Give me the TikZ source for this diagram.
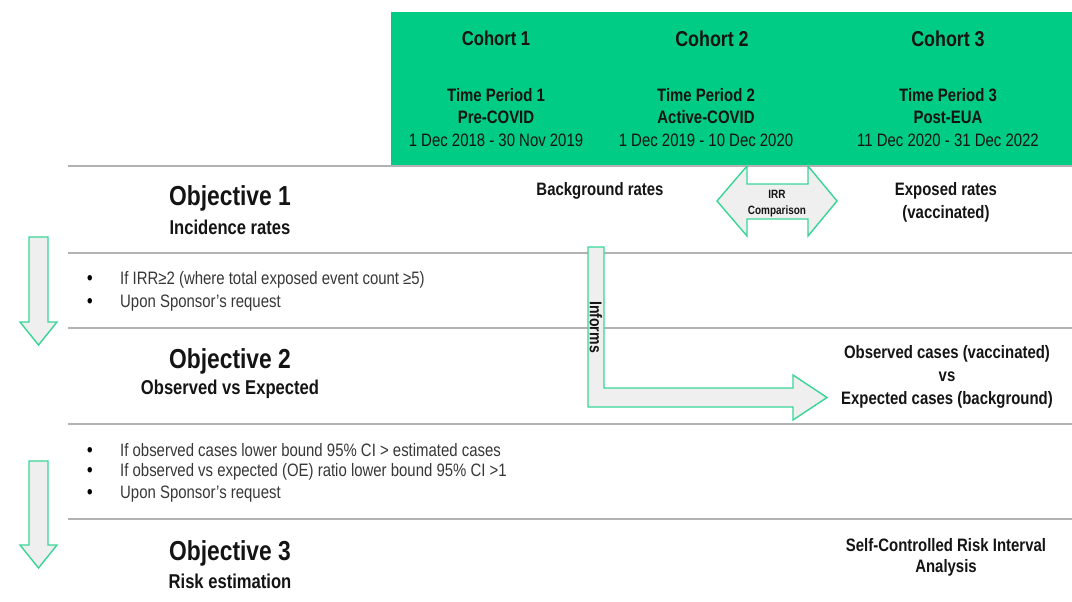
\documentclass[tikz,border=0pt]{standalone}
\usepackage{fontspec}
\setmainfont{Liberation Sans}[FakeStretch=0.83]
\definecolor{cgreen}{RGB}{0,204,133}
\definecolor{mint}{RGB}{56,214,150}
\definecolor{lgray}{RGB}{239,239,239}
\definecolor{rulec}{RGB}{178,178,178}
\definecolor{txt}{RGB}{20,20,20}
\definecolor{btxt}{RGB}{55,55,55}
\tikzset{
  bt/.style={inner sep=0pt, text=txt, font=\bfseries\fontsize{#1}{#1}\selectfont},
  rt/.style={inner sep=0pt, text=txt, font=\fontsize{#1}{#1}\selectfont},
  bl/.style={inner sep=0pt, text=btxt, anchor=west, font=\fontsize{18}{18}\selectfont},
  dotc/.style={inner sep=0pt, text=black, anchor=base, font=\bfseries\fontsize{19}{19}\selectfont},
  sep/.style={draw=rulec, line width=1.5pt},
  shape arrow/.style={draw=mint, fill=lgray, line width=1.4pt, line join=miter}
}
\begin{document}
\begin{tikzpicture}[x=1pt,y=-1pt]
\useasboundingbox (0,0) rectangle (1072,602);
% header band
\fill[cgreen] (391,12) rectangle (1072,165);
% separator rules
\draw[sep] (68,166) -- (1072,166);
\draw[sep] (68,253) -- (1072,253);
\draw[sep] (68,328) -- (1072,328);
\draw[sep] (68,424) -- (1072,424);
\draw[sep] (68,519) -- (1072,519);
% cohorts
\node[bt=20] (c1) at (496,38) {Cohort 1};
\node[bt=21.5] (c2) at (712,39) {Cohort 2};
\node[bt=21.5] (c3) at (948,39) {Cohort 3};
\node[bt=18] (tp1) at (496,95) {Time Period 1};
\node[bt=18] (pc1) at (496,117) {Pre-COVID};
\node[rt=18] (d1) at (496,140) {1 Dec 2018 - 30 Nov 2019};
\node[bt=18] (tp2) at (706,95) {Time Period 2};
\node[bt=18] (pc2) at (706,117) {Active-COVID};
\node[rt=18] (d2) at (706,140) {1 Dec 2019 - 10 Dec 2020};
\node[bt=18] (tp3) at (948,95) {Time Period 3};
\node[bt=18] (pc3) at (948,117) {Post-EUA};
\node[rt=18] (d3) at (948,140) {11 Dec 2020 - 31 Dec 2022};
% objectives
\node[bt=27.5] (o1) at (230,198) {Objective 1};
\node[bt=20] (o1s) at (230,227) {Incidence rates};
\node[bt=27.5] (o2) at (230,361) {Objective 2};
\node[bt=20] (o2s) at (230,389) {Observed vs Expected};
\node[bt=27.5] (o3) at (230,553) {Objective 3};
\node[bt=20] (o3s) at (230,581) {Risk estimation};
% right column texts
\node[bt=18] (bg) at (600,191) {Background rates};
\node[bt=18] (ex1) at (946,191) {Exposed rates};
\node[bt=18] (ex2) at (946,214) {(vaccinated)};
\node[bt=18] (ob1) at (947,354) {Observed cases (vaccinated)};
\node[bt=18] (ob2) at (947,377) {vs};
\node[bt=18] (ob3) at (947,400) {Expected cases (background)};
\node[bt=18] (sc1) at (946,545) {Self-Controlled Risk Interval};
\node[bt=18] (sc2) at (946,568) {Analysis};
% bullets
\node[bl] (b1) at (120,280) {If IRR≥2 (where total exposed event count ≥5)};
\node[bl] (b2) at (120,303) {Upon Sponsor’s request};
\node[bl] (b3) at (120,450) {If observed cases lower bound 95\% CI > estimated cases};
\node[bl] (b4) at (120,472) {If observed vs expected (OE) ratio lower bound 95\% CI >1};
\node[bl] (b5) at (120,494) {Upon Sponsor’s request};
\coordinate (dotx) at (90,0);
\foreach \n in {b1,b2,b3,b4,b5}
  \node[dotc] (dot\n) at (\n.base -| dotx) {\textbullet};
% IRR double arrow
\draw[shape arrow] (717,201) -- (747,166) -- (747,184) -- (808,184) -- (808,166)
  -- (837,201) -- (808,236) -- (808,219) -- (747,219) -- (747,236) -- cycle;
\node[bt=12] (irr1) at (777,194) {IRR};
\node[bt=12] (irr2) at (777,211) {Comparison};
% Informs bent arrow
\draw[shape arrow] (588,247) -- (604,247) -- (604,388) -- (793,388) -- (793,375)
  -- (827,397.5) -- (793,420) -- (793,407) -- (588,407) -- cycle;
\node[bt=17, rotate=-90] (inf) at (596,327) {Informs};
% down arrows
\draw[shape arrow] (29,237) -- (48,237) -- (48,322) -- (57,322) -- (38.5,345)
  -- (20,322) -- (29,322) -- cycle;
\draw[shape arrow] (29,461) -- (48,461) -- (48,545) -- (57,545) -- (38.5,568)
  -- (20,545) -- (29,545) -- cycle;
\end{tikzpicture}
\end{document}
